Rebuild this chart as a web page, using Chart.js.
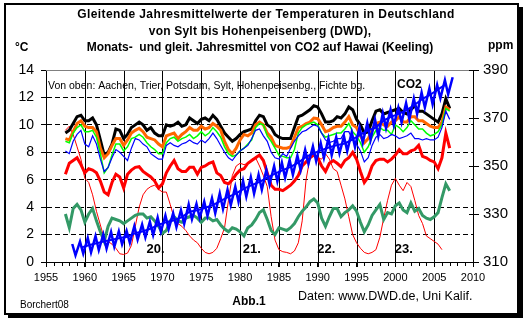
<!DOCTYPE html>
<html>
<head>
<meta charset="utf-8">
<script src="https://cdn.jsdelivr.net/npm/chart.js@4/dist/chart.umd.min.js"></script>
<style>
body { margin: 0; background: #fff; }
</style>
</head>
<body>
<canvas id="myChart" width="528" height="322"></canvas>
<script>
// half-year sampling of the 12-month running means
var halfYears = [
    1957.5, 1958, 1958.5, 1959, 1959.5, 1960, 1960.5, 1961, 1961.5, 1962,
    1962.5, 1963, 1963.5, 1964, 1964.5, 1965, 1965.5, 1966, 1966.5, 1967,
    1967.5, 1968, 1968.5, 1969, 1969.5, 1970, 1970.5, 1971, 1971.5, 1972,
    1972.5, 1973, 1973.5, 1974, 1974.5, 1975, 1975.5, 1976, 1976.5, 1977,
    1977.5, 1978, 1978.5, 1979, 1979.5, 1980, 1980.5, 1981, 1981.5, 1982,
    1982.5, 1983, 1983.5, 1984, 1984.5, 1985, 1985.5, 1986, 1986.5, 1987,
    1987.5, 1988, 1988.5, 1989, 1989.5, 1990, 1990.5, 1991, 1991.5, 1992,
    1992.5, 1993, 1993.5, 1994, 1994.5, 1995, 1995.5, 1996, 1996.5, 1997,
    1997.5, 1998, 1998.5, 1999, 1999.5, 2000, 2000.5, 2001, 2001.5, 2002,
    2002.5, 2003, 2003.5, 2004, 2004.5, 2005, 2005.5, 2006, 2006.5, 2007
];

var aachen = [
    9.4, 9.6, 10.1, 10.6, 10.7, 10.3, 10.3, 10.5, 10.0, 8.9,
    7.8, 8.0, 8.6, 9.7, 9.6, 9.0, 9.3, 9.8, 10.0, 10.2,
    10.0, 9.6, 9.8, 9.4, 9.2, 9.2, 10.0, 9.9, 10.0, 10.2,
    9.9, 10.0, 10.5, 10.3, 10.1, 10.4, 10.5, 10.3, 10.7, 10.4,
    9.9, 9.4, 9.1, 8.8, 9.0, 9.3, 9.5, 9.6, 9.7, 10.3,
    10.7, 10.6, 10.0, 9.8, 9.3, 9.1, 9.0, 9.0, 9.0, 9.8,
    10.6, 10.7, 10.9, 11.1, 11.4, 11.3, 10.8, 10.2, 10.2, 10.3,
    10.6, 10.5, 10.8, 11.3, 11.1, 10.4, 10.0, 9.4, 9.5, 10.3,
    11.0, 11.1, 10.8, 10.9, 11.0, 11.1, 11.2, 10.9, 10.8, 11.1,
    11.4, 11.0, 11.0, 10.8, 10.6, 10.4, 10.2, 10.8, 11.9, 11.2
];

var trier = [
    9.0, 8.9, 9.5, 10.1, 10.3, 9.9, 9.8, 9.8, 9.5, 8.3,
    7.6, 7.9, 8.5, 9.0, 9.0, 8.5, 8.9, 9.4, 9.6, 9.75,
    9.5, 9.1, 9.0, 8.9, 8.6, 8.4, 9.2, 9.3, 9.4, 9.0,
    9.3, 9.5, 9.8, 9.6, 9.6, 9.9, 9.7, 9.8, 10.1, 9.9,
    9.6, 8.8, 8.2, 7.9, 8.3, 8.9, 9.3, 9.2, 9.4, 10.0,
    10.2, 10.0, 9.4, 9.1, 8.5, 8.4, 8.3, 8.3, 8.4, 9.1,
    9.8, 9.9, 10.1, 10.2, 10.5, 10.45, 10.0, 9.5, 9.6, 9.8,
    9.9, 9.9, 10.2, 10.6, 10.0, 9.8, 9.2, 8.7, 9.0, 9.6,
    10.1, 10.2, 10.0, 9.9, 10.2, 10.3, 10.6, 10.2, 10.2, 10.6,
    10.6, 10.3, 10.3, 10.1, 9.9, 9.8, 9.8, 10.2, 11.3, 11.1
];

var potsdam = [
    8.8, 8.7, 9.4, 9.8, 10.0, 9.5, 9.5, 9.6, 9.1, 7.9,
    6.5, 6.9, 7.8, 8.6, 8.6, 8.1, 8.4, 9.0, 9.1, 9.3,
    9.1, 8.7, 8.4, 8.2, 7.9, 7.9, 8.7, 9.0, 9.1, 8.8,
    9.0, 9.1, 9.3, 9.0, 9.2, 9.5, 9.2, 9.4, 9.8, 9.5,
    9.1, 8.4, 7.9, 7.7, 7.8, 8.1, 8.3, 8.6, 8.9, 9.8,
    10.1, 10.0, 9.2, 8.8, 8.3, 7.8, 7.7, 7.6, 7.6, 8.2,
    9.4, 9.8, 10.0, 10.1, 10.2, 10.0, 9.4, 9.1, 9.2, 9.3,
    9.4, 9.4, 9.7, 10.1, 9.5, 9.2, 8.7, 8.0, 8.4, 9.1,
    9.6, 9.8, 9.6, 9.6, 9.3, 10.0, 9.8, 9.5, 9.8, 10.3,
    10.0, 9.7, 9.7, 9.4, 9.2, 9.3, 9.5, 10.0, 11.2, 11.0
];

var sylt = [
    8.1, 7.9, 8.8, 9.3, 9.6, 8.6, 8.4, 9.2, 8.6, 7.5,
    6.6, 6.9, 7.6, 8.2, 8.0, 7.7, 7.4, 8.3, 9.0, 8.9,
    8.6, 8.4, 7.9, 7.7, 7.5, 7.5, 8.5, 8.7, 8.5, 8.4,
    8.6, 8.7, 8.9, 8.7, 8.6, 8.9, 8.7, 9.0, 9.4, 9.0,
    8.5, 8.0, 7.6, 7.4, 7.8, 8.1, 8.3, 8.5, 9.0, 9.6,
    9.7, 9.2, 8.8, 8.0, 7.6, 7.5, 7.9, 7.7, 8.3, 8.8,
    9.2, 9.5, 9.6, 9.8, 10.0, 9.9, 9.4, 8.9, 8.7, 8.8,
    9.0, 9.0, 9.5, 9.5, 8.9, 8.6, 8.1, 7.3, 7.6, 8.5,
    9.1, 9.3, 9.0, 9.1, 9.3, 9.2, 9.0, 9.1, 9.2, 9.4,
    9.0, 9.0, 8.9, 9.0, 8.9, 8.9, 9.1, 9.8, 11.0, 10.4
];

var hohenpeissenberg = [
    6.4, 7.2, 7.4, 7.6, 7.1, 6.5, 6.8, 6.7, 6.5, 5.9,
    5.1, 4.9, 5.8, 6.4, 6.2, 5.4, 6.4, 6.7, 6.9, 6.95,
    6.6, 6.4, 6.2, 5.9, 5.4, 5.7, 6.5, 7.0, 7.4, 6.8,
    6.6, 6.6, 6.9, 6.9, 6.4, 6.9, 7.0, 7.2, 7.3, 6.5,
    6.3, 5.8, 5.7, 6.0, 6.4, 6.7, 6.8, 7.2, 7.4, 7.6,
    7.8, 7.4, 6.5, 5.6, 5.3, 5.3, 5.2, 5.4, 5.6, 5.9,
    6.3, 7.0, 7.3, 7.6, 7.8, 7.6, 7.0, 6.6, 7.2, 7.4,
    7.2, 6.95, 7.4, 7.6, 8.0, 7.5, 6.6, 5.8, 6.2, 7.0,
    7.4, 7.5, 7.5, 7.3, 7.5, 7.8, 8.2, 7.9, 7.9, 8.1,
    8.2, 8.5, 7.7, 7.6, 7.4, 7.3, 6.8, 7.6, 9.4, 8.3
];

var fichtelberg = [
    3.5, 2.5, 3.9, 4.2, 3.8, 2.9, 3.5, 3.9, 3.0, 2.2,
    1.5, 2.6, 3.2, 3.1, 3.0, 2.8, 3.0, 3.2, 3.4, 3.5,
    3.5, 3.2, 3.3, 3.0, 2.6, 2.1, 2.3, 3.0, 3.3, 3.0,
    2.9, 3.2, 3.3, 3.4, 3.2, 2.9, 3.2, 3.2, 3.0, 3.1,
    2.7, 2.4, 2.2, 2.5, 2.4, 2.2, 1.9, 2.5, 2.7, 3.1,
    3.6, 3.8, 3.1, 2.3, 2.0, 2.5, 2.4, 2.3, 2.5, 2.8,
    3.3, 3.7, 4.0, 4.4, 4.6, 4.3, 3.2, 2.6, 3.3, 3.9,
    3.9, 3.3, 3.6, 3.8, 4.1, 3.7, 2.9, 2.2, 2.7, 3.4,
    3.8, 4.2, 3.1, 3.6, 3.5, 4.1, 4.3, 3.8, 3.6, 4.3,
    3.7, 3.9, 3.4, 3.2, 3.1, 3.3, 3.6, 4.7, 5.7, 5.2
];

// sunspot cycles 19-23, drawn thin red against the left scale
var sunspots = [
    9.6, 9.9, 9.3, 8.4, 7.5, 6.1, 5.8, 4.9, 3.7, 2.7,
    1.7, 1.5, 1.3, 1.0, 0.6, 0.55, 0.65, 1.2, 2.6, 4.0,
    4.9, 5.3, 5.5, 5.6, 5.3, 5.1, 5.1, 4.2, 3.2, 2.8,
    2.6, 2.3, 1.9, 1.6, 1.4, 1.0, 0.7, 0.6, 0.7, 1.0,
    1.7, 2.5, 4.5, 6.3, 7.0, 7.2, 7.1, 7.2, 7.5, 7.6,
    7.0, 6.3, 5.5, 3.3, 1.6, 0.9, 0.75, 0.7, 0.6, 0.8,
    1.4, 3.0, 6.0, 7.6, 8.0, 7.6, 7.5, 7.9, 7.5, 6.8,
    6.6, 5.6, 4.6, 3.3, 2.0, 1.4, 1.0, 0.7, 0.6, 0.7,
    0.9, 1.8, 3.2, 4.5, 5.6, 6.1, 5.6, 5.2, 5.8, 5.5,
    4.5, 3.4, 2.8, 1.9, 1.7, 1.5, 1.3, 0.9, null, null
];

// CO2 Mauna Loa (ppm): yearly May maximum and autumn minimum, plus running mean
var co2Years = [
    1958, 1959, 1960, 1961, 1962, 1963, 1964, 1965, 1966, 1967,
    1968, 1969, 1970, 1971, 1972, 1973, 1974, 1975, 1976, 1977,
    1978, 1979, 1980, 1981, 1982, 1983, 1984, 1985, 1986, 1987,
    1988, 1989, 1990, 1991, 1992, 1993, 1994, 1995, 1996, 1997,
    1998, 1999, 2000, 2001, 2002, 2003, 2004, 2005, 2006, 2007
];
var co2Max = [
    317.5, 318.5, 320.0, 320.8, 321.5, 322.5, 322.8, 323.0, 325.0, 325.6,
    326.8, 328.5, 329.4, 330.3, 331.6, 334.0, 334.2, 335.2, 336.6, 338.6,
    340.1, 341.4, 343.8, 345.3, 346.4, 348.4, 350.0, 351.4, 352.5, 354.3,
    356.7, 358.2, 359.6, 361.5, 362.0, 362.4, 364.1, 366.1, 367.9, 369.3,
    372.0, 373.5, 374.3, 376.2, 378.1, 380.6, 382.3, 383.8, 385.8, 387.0
];
var co2Min = [
    312.8, 313.5, 314.0, 315.0, 315.6, 316.4, 317.4, 318.0, 319.3, 320.2,
    321.2, 322.6, 323.7, 324.5, 325.9, 327.8, 328.4, 329.2, 330.3, 332.1,
    333.7, 335.1, 337.2, 338.5, 340.1, 342.3, 343.6, 345.1, 346.3, 348.3,
    350.9, 352.0, 353.4, 354.5, 355.3, 356.2, 357.9, 359.7, 360.9, 362.4,
    365.8, 367.0, 368.2, 369.5, 371.7, 374.4, 375.7, 378.2, 379.9
];
var co2MeanYears = [
    1959.5, 1960.5, 1961.5, 1962.5, 1963.5, 1964.5, 1965.5, 1966.5, 1967.5, 1968.5,
    1969.5, 1970.5, 1971.5, 1972.5, 1973.5, 1974.5, 1975.5, 1976.5, 1977.5, 1978.5,
    1979.5, 1980.5, 1981.5, 1982.5, 1983.5, 1984.5, 1985.5, 1986.5, 1987.5, 1988.5,
    1989.5, 1990.5, 1991.5, 1992.5, 1993.5, 1994.5, 1995.5, 1996.5, 1997.5, 1998.5,
    1999.5, 2000.5, 2001.5, 2002.5, 2003.5, 2004.5, 2005.5, 2006.5
];
var co2Mean = [
    316.0, 317.0, 317.8, 318.6, 319.3, 320.0, 320.5, 322.0, 322.8, 323.9,
    325.5, 326.6, 327.4, 328.7, 331.0, 331.6, 332.6, 333.7, 335.5, 337.1,
    338.6, 340.6, 342.0, 343.4, 345.2, 346.8, 348.3, 349.6, 351.4, 353.8,
    355.3, 356.6, 357.8, 358.7, 359.4, 361.1, 363.1, 364.9, 366.0, 369.0,
    370.6, 371.8, 373.4, 375.5, 378.0, 379.7, 381.9, 384.0
];

var yTicksLeft = [0, 2, 4, 6, 8, 10, 12, 14];
var yTicksRight = [310, 330, 350, 370, 390];
var cycleLabels = ['20.', '21.', '22.', '23.'];
var cycleYears = [1969.1, 1981.5, 1991.1, 2001.1];

var FONT = "'Liberation Sans', Arial, sans-serif";

function toPoints(xs, ys) {
    var out = [];
    for (var i = 0; i < xs.length; i++) {
        if (ys[i] !== null) out.push({x: xs[i], y: ys[i]});
    }
    return out;
}

var co2Monthly = [];
for (var i = 0; i < co2Years.length; i++) {
    co2Monthly.push({x: co2Years[i] + 0.38, y: co2Max[i]});
    if (i < co2Min.length) co2Monthly.push({x: co2Years[i] + 0.8, y: co2Min[i]});
}

function series(label, data, color, width, axis, order) {
    return {
        label: label,
        data: data,
        borderColor: color,
        borderWidth: width,
        pointRadius: 0,
        fill: false,
        tension: 0,
        yAxisID: axis,
        order: order
    };
}

var decor = {
    id: 'decor',
    beforeDraw: function(chart) {
        var ctx = chart.ctx;
        ctx.save();
        ctx.fillStyle = '#fff';
        ctx.fillRect(0, 0, chart.width, chart.height);
        ctx.restore();
    },
    beforeDatasetsDraw: function(chart) {
        // solid vertical grid lines every 5 years
        var ctx = chart.ctx, xs = chart.scales.x, area = chart.chartArea;
        ctx.save();
        ctx.setLineDash([]);
        ctx.strokeStyle = '#000';
        ctx.lineWidth = 1;
        ctx.beginPath();
        for (var yr = 1960; yr <= 2005; yr += 5) {
            var px = Math.round(xs.getPixelForValue(yr)) + 0.5;
            ctx.moveTo(px, area.top);
            ctx.lineTo(px, area.bottom);
        }
        ctx.stroke();
        ctx.restore();
    },
    afterDraw: function(chart) {
        var ctx = chart.ctx;
        var xs = chart.scales.x, ys = chart.scales.y;
        var area = chart.chartArea;
        ctx.save();
        ctx.setLineDash([]);

        // top edge of the plot
        ctx.strokeStyle = '#808080';
        ctx.lineWidth = 1;
        ctx.beginPath();
        ctx.moveTo(area.left, area.top + 0.5);
        ctx.lineTo(area.right, area.top + 0.5);
        ctx.stroke();

        // yearly minor ticks and crossing major ticks on the x axis
        ctx.strokeStyle = '#000';
        ctx.beginPath();
        for (var yr = 1955; yr <= 2010; yr++) {
            var px = Math.round(xs.getPixelForValue(yr)) + 0.5;
            ctx.moveTo(px, area.bottom);
            ctx.lineTo(px, area.bottom + (yr % 5 === 0 ? 5 : 4));
            if (yr % 5 === 0) {
                ctx.moveTo(px, area.bottom);
                ctx.lineTo(px, area.bottom - 3);
            }
        }
        // crossing ticks on the right axis
        var ys2 = chart.scales.y2;
        yTicksRight.forEach(function(v) {
            var py = Math.round(ys2.getPixelForValue(v)) + 0.5;
            ctx.moveTo(area.right - 4, py);
            ctx.lineTo(area.right, py);
        });
        ctx.stroke();

        ctx.fillStyle = '#000';
        ctx.textBaseline = 'middle';

        // title
        ctx.textAlign = 'center';
        ctx.font = 'bold 12px ' + FONT;
        ctx.letterSpacing = '0.4px';
        ctx.fillText('Gleitende Jahresmittelwerte der Temperaturen in Deutschland', 266, 15);
        ctx.letterSpacing = '0.2px';
        ctx.fillText('von Sylt bis Hohenpeisenberg (DWD),', 260, 32);
        ctx.letterSpacing = '0px';
        ctx.fillText('Monats-  und gleit. Jahresmittel von CO2 auf Hawai (Keeling)', 260, 48);

        ctx.textAlign = 'left';
        ctx.font = 'bold 12px ' + FONT;
        ctx.fillText('°C', 15, 48);
        ctx.fillText('ppm', 488, 46);

        // station order and CO2 note
        ctx.font = '10.5px ' + FONT;
        ctx.fillText('Von oben: Aachen, Trier, Potsdam, Sylt, Hohenpeisenbg., Fichte bg.', 48, 86);
        ctx.font = 'bold 12px ' + FONT;
        ctx.fillText('CO2', 397, 85);

        // sunspot cycle numbers
        ctx.textAlign = 'center';
        ctx.font = 'bold 13px ' + FONT;
        for (var k = 0; k < cycleLabels.length; k++) {
            ctx.fillText(cycleLabels[k], xs.getPixelForValue(cycleYears[k]), ys.getPixelForValue(0.9));
        }

        // footer
        ctx.font = 'bold 12px ' + FONT;
        ctx.fillText('Abb.1', 249, 302);
        ctx.textAlign = 'left';
        ctx.font = '10px ' + FONT;
        ctx.fillText('Borchert08', 20, 305);
        ctx.font = '12.5px ' + FONT;
        ctx.fillText('Daten: www.DWD.de, Uni Kalif.', 298, 297);

        // outer frame with shadow
        ctx.strokeStyle = '#000';
        ctx.lineWidth = 2;
        ctx.strokeRect(5, 4, 513, 310);
        ctx.fillRect(519, 7, 4, 311);
        ctx.fillRect(8, 315, 515, 3);
        ctx.restore();
    }
};

var ctx = document.getElementById('myChart');
var myChart = new Chart(ctx, {
    type: 'line',
    data: {
        datasets: [
            series('CO2 Monatsmittel', co2Monthly, '#0000ff', 2.5, 'y2', 1),
            series('CO2 Jahresmittel', toPoints(co2MeanYears, co2Mean), '#0000ff', 2, 'y2', 2),
            series('Aachen', toPoints(halfYears, aachen), '#000000', 3, 'y', 7),
            series('Trier', toPoints(halfYears, trier), '#ff6600', 3, 'y', 6),
            series('Potsdam', toPoints(halfYears, potsdam), '#00ff00', 1.5, 'y', 5),
            series('Sylt', toPoints(halfYears, sylt), '#0000ff', 1.2, 'y', 4),
            series('Hohenpeisenberg', toPoints(halfYears, hohenpeissenberg), '#ff0000', 3, 'y', 3),
            series('Fichtelberg', toPoints(halfYears, fichtelberg), '#339966', 3, 'y', 3),
            series('Sonnenflecken', toPoints(halfYears, sunspots), '#ff0000', 1, 'y', 8)
        ]
    },
    plugins: [decor],
    options: {
        responsive: false,
        animation: false,
        devicePixelRatio: 1,
        layout: { padding: { top: 70, left: 0, right: 0, bottom: 0 } },
        plugins: {
            legend: { display: false },
            title: { display: false },
            tooltip: { enabled: false }
        },
        scales: {
            x: {
                type: 'linear',
                min: 1955,
                max: 2010,
                ticks: {
                    stepSize: 5,
                    color: '#000',
                    padding: 4,
                    maxRotation: 0,
                    font: { family: FONT, size: 11 },
                    callback: function(v) { return String(v); }
                },
                grid: {
                    drawOnChartArea: false,
                    lineWidth: 1,
                    color: '#000',
                    tickColor: '#000',
                    tickLength: 5
                },
                border: { display: true, color: '#000', width: 1 },
                afterFit: function(s) { s.height = 60; }
            },
            y: {
                position: 'left',
                min: 0,
                max: 14,
                afterBuildTicks: function(s) {
                    s.ticks = yTicksLeft.map(function(v) { return {value: v}; });
                },
                ticks: {
                    color: '#000',
                    padding: 7,
                    font: { family: FONT, size: 14 }
                },
                grid: {
                    color: function(c) {
                        if (c.tick && (c.tick.value === 0 || c.tick.value === 14)) return 'rgba(0,0,0,0)';
                        return '#000';
                    },
                    lineWidth: 1,
                    tickColor: '#000',
                    tickLength: 5,
                    tickBorderDash: []
                },
                border: { display: true, color: '#000', width: 1, dash: [5, 3] },
                afterFit: function(s) { s.width = 46; }
            },
            y2: {
                position: 'right',
                min: 310,
                max: 390,
                afterBuildTicks: function(s) {
                    s.ticks = yTicksRight.map(function(v) { return {value: v}; });
                },
                ticks: {
                    color: '#000',
                    padding: 4,
                    font: { family: FONT, size: 15 }
                },
                grid: {
                    drawOnChartArea: false,
                    tickColor: '#000',
                    tickLength: 6
                },
                border: { display: true, color: '#000', width: 1 },
                afterFit: function(s) { s.width = 55; }
            }
        }
    }
});
</script>
</body>
</html>
